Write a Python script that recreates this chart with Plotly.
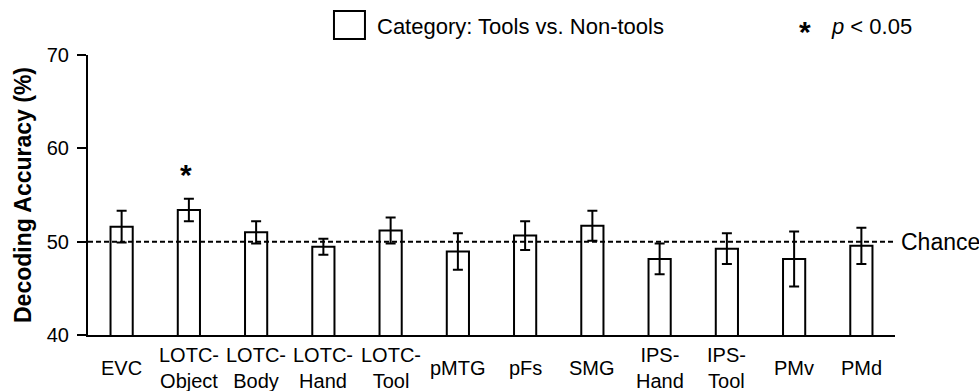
import plotly.graph_objects as go

# ROI decoding of tool vs. non-tool category
regions = ["EVC", "LOTC-Object", "LOTC-Body", "LOTC-Hand", "LOTC-Tool", "pMTG",
           "pFs", "SMG", "IPS-Hand", "IPS-Tool", "PMv", "PMd"]
tick_labels = ["EVC", "LOTC-<br>Object", "LOTC-<br>Body", "LOTC-<br>Hand", "LOTC-<br>Tool",
               "pMTG", "pFs", "SMG", "IPS-<br>Hand", "IPS-<br>Tool", "PMv", "PMd"]
accuracy = [51.6, 53.4, 51.0, 49.45, 51.2, 48.95, 50.65, 51.7, 48.15, 49.25, 48.15, 49.55]
sem = [1.7, 1.2, 1.2, 0.85, 1.4, 1.95, 1.55, 1.6, 1.65, 1.65, 2.95, 1.95]
significant = [False, True, False, False, False, False, False, False, False, False, False, False]
chance = 50
y_ticks = [40, 50, 60, 70]

FONT = "Liberation Sans, Arial, sans-serif"

fig = go.Figure()
fig.add_trace(go.Bar(
    x=regions, y=accuracy, width=0.33,
    marker=dict(color="white", line=dict(color="black", width=2)),
    error_y=dict(type="data", array=sem, visible=True, color="black", thickness=2, width=5),
    showlegend=False,
))

# chance level
fig.add_shape(type="line", xref="paper", yref="y", x0=0, x1=1, y0=chance, y1=chance,
              line=dict(color="black", width=2, dash="5px,3px"))
fig.add_annotation(xref="paper", yref="y", x=1, y=chance, text="Chance", showarrow=False,
                   xanchor="left", yanchor="middle", xshift=4, font=dict(size=23, color="black"))

# category labels below the axis
for name, label in zip(regions, tick_labels):
    fig.add_annotation(xref="x", yref="paper", x=name, y=-0.118, text=label, showarrow=False,
                       xanchor="center", yanchor="middle", font=dict(size=20, color="black"))

# significance markers
for name, acc, err, sig in zip(regions, accuracy, sem, significant):
    if sig:
        fig.add_annotation(xref="x", yref="y", x=name, y=acc + err + 2.6, text="<b>*</b>",
                           showarrow=False, yanchor="middle", xshift=-3,
                           font=dict(size=30, color="black"))

# key
fig.add_shape(type="rect", xref="paper", yref="paper", x0=0.3048, x1=0.3432, y0=1.057, y1=1.157,
              line=dict(color="black", width=2), fillcolor="white")
fig.add_annotation(xref="paper", yref="paper", x=0.3556, y=1.10, text="Category: Tools vs. Non-tools",
                   showarrow=False, xanchor="left", yanchor="middle", font=dict(size=22, color="black"))
fig.add_annotation(xref="paper", yref="paper", x=0.889, y=1.085, text="<b>*</b>", showarrow=False,
                   xanchor="center", yanchor="middle", font=dict(size=30, color="black"))
fig.add_annotation(xref="paper", yref="paper", x=0.918, y=1.10, text="<i>p</i> &lt; 0.05",
                   showarrow=False, xanchor="left", yanchor="middle", font=dict(size=22, color="black"))

fig.update_layout(
    width=979, height=391,
    margin=dict(l=88, r=84, t=55, b=56),
    plot_bgcolor="white", paper_bgcolor="white",
    font=dict(family=FONT, color="black", size=20),
    bargap=0.67,
)
fig.update_xaxes(range=[-0.5, len(regions) - 0.5], showline=True, linecolor="black", linewidth=2,
                 ticks="", showticklabels=False, showgrid=False, zeroline=False)
fig.update_yaxes(range=[40, 70], tickvals=y_ticks, showline=True, linecolor="black", linewidth=2,
                 ticks="outside", ticklen=9, tickwidth=2, tickcolor="black",
                 tickfont=dict(size=20), ticklabelstandoff=4, showgrid=False, zeroline=False,
                 title=dict(text="<b>Decoding Accuracy (%)</b>", font=dict(size=23), standoff=9))

fig.write_html("out.html")
